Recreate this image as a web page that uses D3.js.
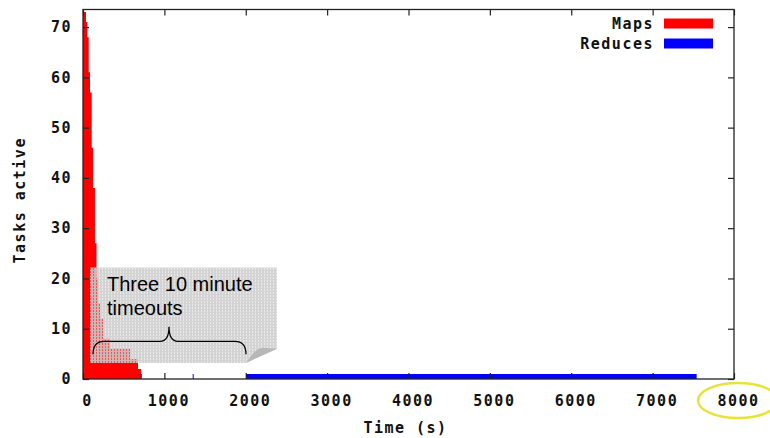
<!DOCTYPE html>
<html>
<head>
<meta charset="utf-8">
<script src="https://cdn.jsdelivr.net/npm/d3@7"></script>
<style>
  body { margin: 0; background: #fff; }
  svg { display: block; }
</style>
</head>
<body>
<div id="chart"></div>
<script>
// Data
var mapTime = [0, 37, 53, 70, 86, 107, 123, 147, 166, 185, 209, 246, 332, 578, 676, 713];
var mapTasks = [73, 71, 68, 61, 57, 46, 38, 27, 20, 15, 12, 8, 6, 4, 2, 0];

var reduceTime = [0, 12, 710, 722, 1348, 1360, 2003, 7541];
var reduceTasks = [1, 0, 1, 0, 1, 0, 1, 0];

var xTicks = [0, 1000, 2000, 3000, 4000, 5000, 6000, 7000, 8000];
var yTicks = [0, 10, 20, 30, 40, 50, 60, 70];

var seriesNames = ["Maps", "Reduces"];
var seriesColors = ["#ff0000", "#0000ff"];

var svgWidth = 770;
var svgHeight = 438;

var margin = { top: 9.5, right: 36, bottom: 59, left: 83 };
var width = svgWidth - margin.left - margin.right;
var height = svgHeight - margin.top - margin.bottom;

var monoFont = "'DejaVu Sans Mono', monospace";

var svg = d3.select("#chart")
  .append("svg")
  .attr("width", svgWidth)
  .attr("height", svgHeight);

svg.append("rect")
  .attr("width", svgWidth)
  .attr("height", svgHeight)
  .attr("fill", "#fff");

var chartGroup = svg.append("g")
  .attr("transform", `translate(${margin.left}, ${margin.top})`);

var x = d3.scaleLinear().domain([0, 8000]).range([0, width]);
var y = d3.scaleLinear().domain([0, 73.5]).range([height, 0]);

var area = d3.area()
  .curve(d3.curveStepAfter)
  .x(d => x(d[0]))
  .y0(y(0))
  .y1(d => y(d[1]));

var maps = mapTime.map((t, i) => [t, mapTasks[i]]);
var reduces = reduceTime.map((t, i) => [t, reduceTasks[i]]);

chartGroup.append("path")
  .datum(maps)
  .attr("d", area)
  .attr("fill", seriesColors[0]);

chartGroup.append("path")
  .datum(reduces)
  .attr("d", area)
  .attr("fill", seriesColors[1]);

// axes, gnuplot style: ticks inward on all sides
function styleAxis(g) {
  g.select(".domain").remove();
  g.selectAll(".tick line").attr("stroke", "#222").attr("stroke-width", 1.2);
  g.selectAll(".tick text")
    .attr("font-family", monoFont)
    .attr("font-weight", "bold")
    .attr("font-size", 15)
    .attr("letter-spacing", 1.5)
    .attr("fill", "#111");
}

chartGroup.append("g")
  .attr("transform", `translate(0, ${height})`)
  .call(d3.axisBottom(x).tickValues(xTicks).tickSize(-6).tickPadding(16).tickFormat(d3.format("d")))
  .call(styleAxis)
  .selectAll(".tick text").attr("dx", 4);

chartGroup.append("g")
  .call(d3.axisLeft(y).tickValues(yTicks).tickSize(-6).tickPadding(11).tickFormat(d3.format("d")))
  .call(styleAxis);

chartGroup.append("g")
  .call(d3.axisTop(x).tickValues(xTicks).tickSize(-6).tickFormat(""))
  .call(styleAxis);

chartGroup.append("g")
  .attr("transform", `translate(${width}, 0)`)
  .call(d3.axisRight(y).tickValues(yTicks).tickSize(-6).tickFormat(""))
  .call(styleAxis);

chartGroup.append("rect")
  .attr("width", width)
  .attr("height", height)
  .attr("fill", "none")
  .attr("stroke", "#222")
  .attr("stroke-width", 1.3);

// axis titles
chartGroup.append("text")
  .attr("transform", "rotate(-90)")
  .attr("x", -(height / 2) - 6)
  .attr("y", -margin.left + 25)
  .attr("text-anchor", "middle")
  .attr("font-family", monoFont)
  .attr("font-weight", "bold")
  .attr("font-size", 15)
  .attr("letter-spacing", 1.5)
  .attr("fill", "#111")
  .text("Tasks active");

chartGroup.append("text")
  .attr("x", width / 2 - 3)
  .attr("y", height + 54)
  .attr("text-anchor", "middle")
  .attr("font-family", monoFont)
  .attr("font-weight", "bold")
  .attr("font-size", 15)
  .attr("letter-spacing", 1.5)
  .attr("fill", "#111")
  .text("Time (s)");

// legend
var legend = chartGroup.append("g")
  .attr("transform", `translate(${width - 70}, 14)`);

seriesNames.forEach(function(name, i) {
  legend.append("text")
    .attr("x", -10)
    .attr("y", i * 20 + 5)
    .attr("text-anchor", "end")
    .attr("font-family", monoFont)
    .attr("font-weight", "bold")
    .attr("font-size", 15)
    .attr("letter-spacing", 1.5)
    .attr("fill", "#111")
    .text(name);
  legend.append("rect")
    .attr("x", 0)
    .attr("y", i * 20 - 5)
    .attr("width", 49)
    .attr("height", 10)
    .attr("fill", seriesColors[i]);
});

// callout pasted over the plot
var defs = svg.append("defs");
defs.append("pattern")
  .attr("id", "dots")
  .attr("patternUnits", "userSpaceOnUse")
  .attr("width", 3)
  .attr("height", 3)
  .append("path")
  .attr("d", "M0,0H3V3H0Z M1,1H2V2H1Z")
  .attr("fill-rule", "evenodd")
  .attr("fill", "#cdcdcd")
  .attr("fill-opacity", 0.88);

var bx0 = x(86), bx1 = x(2384), by0 = y(22.2), by1 = y(3.2);
var curlX = x(2003), curlY = y(6);

var note = chartGroup.append("g");
note.append("path")
  .attr("d", `M${bx0},${by0}H${bx1}V${curlY}L${curlX},${by1}H${bx0}Z`)
  .attr("fill", "url(#dots)");

note.append("path")
  .attr("d", `M${curlX},${by1} C${curlX + 6},${curlY + 6} ${curlX + 9},${curlY} ${curlX + 17},${curlY - 1} L${bx1},${curlY} Z`)
  .attr("fill", "#b4b4b4")
  .attr("fill-opacity", 0.9);

note.append("text")
  .attr("x", x(295))
  .attr("y", y(17.6))
  .attr("font-family", "'Liberation Sans', Arial, sans-serif")
  .attr("font-size", 20)
  .attr("fill", "#000")
  .selectAll("tspan")
  .data(["Three 10 minute", "timeouts"])
  .enter()
  .append("tspan")
  .attr("x", x(295))
  .attr("dy", (d, i) => i === 0 ? 0 : 24)
  .text(d => d);

var xl = x(123), xr = x(2003), xm = x(1057);
var yb = y(4.9), yh = y(7.5), yt = y(10.4);
note.append("path")
  .attr("d", `M${xl},${yb} Q${xl},${yh} ${xl + 11},${yh} L${xm - 9},${yh} Q${xm},${yh} ${xm},${yt} Q${xm},${yh} ${xm + 9},${yh} L${xr - 11},${yh} Q${xr},${yh} ${xr},${yb}`)
  .attr("fill", "none")
  .attr("stroke", "#000")
  .attr("stroke-width", 1.3);

// highlight ring around the last tick label
chartGroup.append("ellipse")
  .attr("cx", x(8000) + 4)
  .attr("cy", height + 21.5)
  .attr("rx", 40)
  .attr("ry", 17.5)
  .attr("fill", "none")
  .attr("stroke", "#e6e33a")
  .attr("stroke-width", 2.5);
</script>
</body>
</html>
